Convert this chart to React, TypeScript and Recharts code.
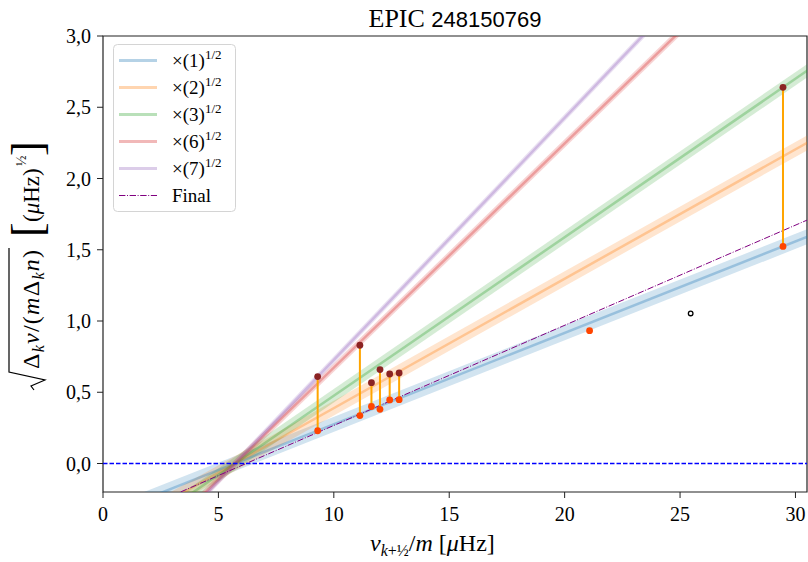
import React from 'react';
import {
  ComposedChart, Line, Scatter, XAxis, YAxis, ReferenceArea,
} from 'recharts';

const SERIF = '"Liberation Serif", "DejaVu Serif", serif';

// fitted lines, value at both ends of the x range
const fitX = [0, 31];
const fit1 = [-0.367, 1.623];
const fit2 = [-0.519, 2.295];
const fit3 = [-0.636, 2.811];
const fit6 = [-0.9, 3.976];
const fit7 = [-0.972, 4.295];
const finalFit = [-0.436, 1.743];
const zeroLine = [0, 0];

const fitNames = ['1', '2', '3', '6', '7'];
const fitColors = ['#1f77b4', '#ff7f0e', '#2ca02c', '#d62728', '#9467bd'];
const fitValues = [fit1, fit2, fit3, fit6, fit7];
const bandWidths = [14, 13, 11, 6, 5];

// measured points: upper (dark red) and lower (orange-red) of each pair
const pairX = [9.3, 11.13, 11.63, 12.0, 12.42, 12.83, 29.46];
const pairHigh = [0.61, 0.83, 0.567, 0.659, 0.628, 0.635, 2.64];
const pairLow = [0.23, 0.336, 0.4, 0.38, 0.446, 0.448, 1.523];
const singleX = [21.08];
const singleY = [0.932];
const openX = [25.46];
const openY = [1.053];

const xTicks = [0, 5, 10, 15, 20, 25, 30];
const yTicks = [0, 0.5, 1, 1.5, 2, 2.5, 3];

const toLine = (ys: number[]) => fitX.map((x, i) => ({ x, y: ys[i] }));
const connectors = pairX.flatMap((x, i) => [
  { x, y: pairLow[i] },
  { x, y: pairHigh[i] },
  { x, y: null },
]);
const highPts = pairX.map((x, i) => ({ x, y: pairHigh[i] }));
const lowPts = pairX.map((x, i) => ({ x, y: pairLow[i] }));
const singlePts = singleX.map((x, i) => ({ x, y: singleY[i] }));
const openPts = openX.map((x, i) => ({ x, y: openY[i] }));

const dot = (fill: string) => (p: any) => (
  <circle cx={p.cx} cy={p.cy} r={3.4} fill={fill} />
);
const openDot = (p: any) => (
  <circle cx={p.cx} cy={p.cy} r={2.3} fill="#fff" stroke="#000" strokeWidth={1.3} />
);

function YLabel() {
  return (
    <g transform="translate(39, 390) rotate(-90)" fill="#000" fontFamily={SERIF}>
      <path d="M0,-5 L4,-8 L10,6 L18,-30 L142,-30" fill="none" stroke="#000" strokeWidth={1.2} />
      <text x={21} y={0} fontSize={24} textLength={119} lengthAdjust="spacing">
        <tspan>Δ</tspan>
        <tspan fontSize={16} fontStyle="italic" dy={5}>k</tspan>
        <tspan fontStyle="italic" dy={-5}>v</tspan>
        <tspan>/(</tspan>
        <tspan fontStyle="italic">m</tspan>
        <tspan>Δ</tspan>
        <tspan fontSize={16} fontStyle="italic" dy={5}>k</tspan>
        <tspan fontStyle="italic" dy={-5}>n</tspan>
        <tspan>)</tspan>
      </text>
      <text x={153} y={3} fontSize={44}>[</text>
      <text x={168} y={0} fontSize={23}>
        (<tspan fontStyle="italic">μ</tspan>Hz)
      </text>
      <text x={224} y={-13} fontSize={14}>½</text>
      <text x={234} y={3} fontSize={44}>]</text>
    </g>
  );
}

function XLabel() {
  return (
    <text x={370} y={551} fontSize={24} fontFamily={SERIF} fill="#000">
      <tspan fontStyle="italic">v</tspan>
      <tspan fontSize={16} fontStyle="italic" dy={5}>k</tspan>
      <tspan fontSize={16}>+½</tspan>
      <tspan dy={-5}>/</tspan>
      <tspan fontStyle="italic">m</tspan>
      <tspan> [</tspan>
      <tspan fontStyle="italic">μ</tspan>
      <tspan>Hz]</tspan>
    </text>
  );
}

export default function App() {
  const tickStyle = { fontSize: 20, fontFamily: SERIF, fill: '#000' };
  return (
    <div style={{ position: 'absolute', left: 0, top: 0, width: 808, height: 562, background: '#fff' }}>
      <ComposedChart width={808} height={562} margin={{ top: 36, right: 1, bottom: 0, left: 0 }}>
        <XAxis
          type="number"
          dataKey="x"
          domain={[0, 30.5]}
          ticks={xTicks}
          allowDataOverflow
          axisLine={false}
          tickLine={{ stroke: '#222' }}
          tickSize={6}
          tickMargin={9}
          tick={tickStyle}
          height={70}
          label={{ content: () => <XLabel /> }}
        />
        <YAxis
          type="number"
          dataKey="y"
          domain={[-0.2, 3]}
          ticks={yTicks}
          allowDataOverflow
          axisLine={false}
          tickLine={{ stroke: '#222' }}
          tickSize={6}
          tickMargin={6}
          tick={tickStyle}
          width={103}
          tickFormatter={(v: number) => v.toFixed(1).replace('.', ',')}
          label={{ content: () => <YLabel /> }}
        />
        <ReferenceArea x1={0} x2={30.5} y1={-0.2} y2={3} fill="none" stroke="#222" strokeWidth={1.2} />
        {fitValues.map((ys, i) => (
          <Line
            key={'band' + i}
            data={toLine(ys)}
            dataKey="y"
            stroke={fitColors[i]}
            strokeOpacity={0.2}
            strokeWidth={bandWidths[i]}
            dot={false}
            activeDot={false}
            isAnimationActive={false}
          />
        ))}
        {fitValues.map((ys, i) => (
          <Line
            key={'fit' + i}
            data={toLine(ys)}
            dataKey="y"
            name={`×(${fitNames[i]})^1/2`}
            stroke={fitColors[i]}
            strokeOpacity={0.32}
            strokeWidth={2.5}
            dot={false}
            activeDot={false}
            isAnimationActive={false}
          />
        ))}
        <Line
          data={toLine(finalFit)}
          dataKey="y"
          name="Final"
          stroke="#800080"
          strokeWidth={1}
          strokeDasharray="6.4 1.6 1 1.6"
          dot={false}
          activeDot={false}
          isAnimationActive={false}
        />
        <Line
          data={toLine(zeroLine)}
          dataKey="y"
          stroke="#0000ff"
          strokeWidth={1.5}
          strokeDasharray="4.5 2"
          dot={false}
          activeDot={false}
          isAnimationActive={false}
        />
        <Line
          data={connectors}
          dataKey="y"
          stroke="#ffa500"
          strokeWidth={2}
          dot={false}
          activeDot={false}
          isAnimationActive={false}
        />
        <Scatter data={highPts} dataKey="y" shape={dot('#8b2323')} isAnimationActive={false} />
        <Scatter data={lowPts} dataKey="y" shape={dot('#ff4500')} isAnimationActive={false} />
        <Scatter data={singlePts} dataKey="y" shape={dot('#ff4500')} isAnimationActive={false} />
        <Scatter data={openPts} dataKey="y" shape={openDot} isAnimationActive={false} />
      </ComposedChart>
      <svg width={808} height={562} style={{ position: 'absolute', left: 0, top: 0, pointerEvents: 'none' }}>
        <text x={455} y={27} textAnchor="middle" fill="#000">
          <tspan fontFamily={SERIF} fontSize={26}>EPIC </tspan>
          <tspan fontFamily='"Liberation Sans", sans-serif' fontSize={22}>248150769</tspan>
        </text>
        <g transform="translate(113, 44)">
          <rect x={0.5} y={0.5} width={122} height={167} rx={4} fill="#fff" fillOpacity={0.8} stroke="#d4d4d4" />
          {fitNames.map((n, i) => (
            <g key={n} transform={`translate(0, ${16.5 + i * 27})`}>
              <line x1={6} x2={44} y1={0} y2={0} stroke={fitColors[i]} strokeOpacity={0.33} strokeWidth={3} />
              <text x={59} y={6} fontFamily={SERIF} fontSize={19} fill="#000">
                ×({n})<tspan fontSize={13} dy={-8}>1/2</tspan>
              </text>
            </g>
          ))}
          <g transform={`translate(0, ${16.5 + 5 * 27})`}>
            <line x1={6} x2={44} y1={0} y2={0} stroke="#800080" strokeWidth={1} strokeDasharray="6.4 1.6 1 1.6" />
            <text x={59} y={6} fontFamily={SERIF} fontSize={19} fill="#000">Final</text>
          </g>
        </g>
      </svg>
    </div>
  );
}
